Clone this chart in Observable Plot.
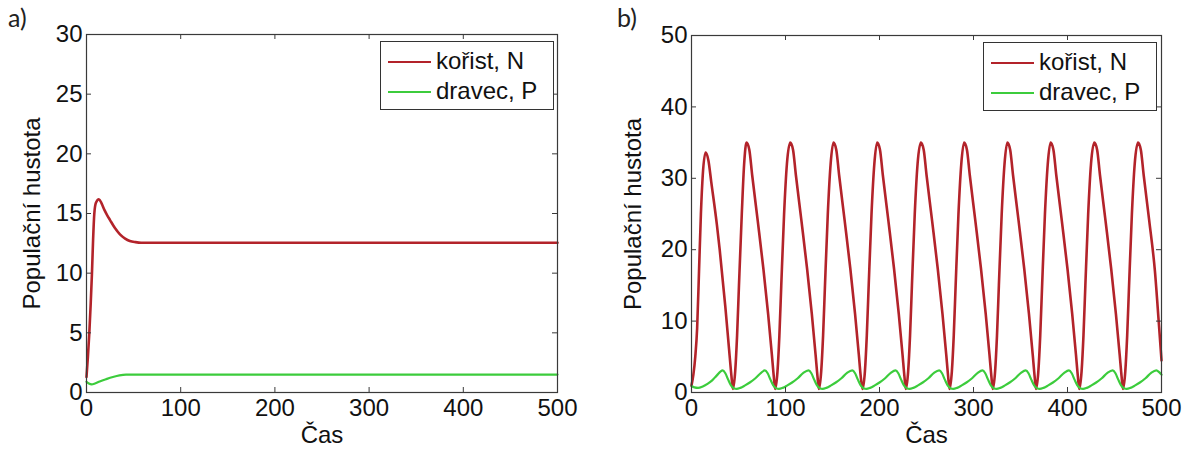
<!DOCTYPE html>
<html>
<head>
<meta charset="utf-8">
<script src="https://cdn.jsdelivr.net/npm/d3@7"></script>
<script src="https://cdn.jsdelivr.net/npm/@observablehq/plot@0.6"></script>
<style>
  html, body { margin: 0; padding: 0; background: #fff; }
  body { width: 1192px; height: 450px; overflow: hidden; position: relative; font-family: "Liberation Sans", Arial, sans-serif; color: #111; }
  .panel { position: absolute; top: 0; width: 596px; height: 450px; }
  .tag { position: absolute; top: 2px; font-family: Lato, "Open Sans", sans-serif; font-size: 25px; color: #222; }
  .legend { position: absolute; box-sizing: border-box; border: 1px solid #333; background: #fff; width: 174px; height: 69px; }
  .row { position: absolute; left: 0; width: 100%; height: 30px; }
  .sw { position: absolute; left: 7px; width: 43px; height: 2px; }
  .lbl { position: absolute; left: 55px; font-size: 24px; line-height: 26px; white-space: nowrap; color: #111; }
</style>
</head>
<body>
<div id="pa" class="panel" style="left:0"></div>
<div id="pb" class="panel" style="left:596px"></div>
<div class="tag" style="left:8px">a)</div>
<div class="tag" style="left:617px">b)</div>
<script>
// ---------- data ----------
const xTickValues = [0, 100, 200, 300, 400, 500];
const aYTicks = [0, 5, 10, 15, 20, 25, 30];
const bYTicks = [0, 10, 20, 30, 40, 50];
const seriesNames = ["kořist, N", "dravec, P"];

// panel a) - prey (kořist, N)
const aPreyT = [0, 1.5, 3, 4.5, 5.8, 7, 8.3, 10, 13.2, 16, 19, 22, 25, 30, 35.5, 41, 46, 52, 58, 500];
const aPreyV = [1.3, 3, 5, 7.5, 10, 12.8, 15, 15.9, 16.2, 15.85, 15.3, 14.85, 14.45, 13.8, 13.25, 12.9, 12.7, 12.6, 12.55, 12.55];
// panel a) - predator (dravec, P)
const aPredT = [0, 2.5, 5.5, 9, 14, 21, 28, 35, 42, 50, 500];
const aPredV = [0.9, 0.75, 0.68, 0.75, 0.92, 1.12, 1.3, 1.44, 1.5, 1.5, 1.5];

// panel b) - prey (kořist, N)
const bPreyT = [0, 2, 4, 6, 8, 10, 12, 15, 18, 21, 27, 30, 36, 40, 42.5, 44,
  46.5, 48.5, 50.5, 53.5, 56, 58.5, 61.5, 64.5, 70.5, 76.5, 81.5, 85.5, 87.5, 89,
  91.5, 93.5, 95.5, 98.5, 101.5, 105, 108, 111, 117, 123, 128, 132, 134, 135.5,
  138, 140, 142, 145, 148, 151, 154, 157, 163, 169, 174, 178, 180, 182,
  184.5, 186.5, 188.5, 191.5, 194.5, 197.5, 200.5, 203.5, 209.5, 215.5, 220.5, 224.5, 226.5, 228,
  230.5, 232.5, 234.5, 237.5, 240.5, 244, 247, 250, 256, 262, 267, 271, 273, 274.5,
  277, 279, 281, 284, 287, 290, 293, 296, 302, 308, 313, 317, 319, 320.5,
  323, 325, 327, 330, 333, 336, 339, 342, 348, 354, 359, 363, 365, 366.5,
  369, 371, 373, 376, 379, 382, 385, 388, 394, 400, 405, 409, 411, 412.5,
  415, 417, 419, 422, 425, 428.5, 431.5, 434.5, 440.5, 446.5, 451.5, 455.5, 457.5, 459,
  461.5, 463.5, 465.5, 468.5, 471.5, 475, 478, 481, 487, 493, 497, 500];
const bPreyV = [1.0, 2.5, 5, 9, 17, 25, 30.5, 33.6, 32.5, 29.5, 23.5, 20, 12, 6, 2.3, 0.5,
  3, 8, 15, 25, 32, 35, 34, 30.5, 24, 17.3, 11, 5.3, 2.3, 0.5,
  3, 8, 15, 25, 32, 35, 34, 30.5, 24, 17.3, 11, 5.3, 2.3, 0.5,
  3, 8, 15, 25, 32, 35, 34, 30.5, 24, 17.3, 11, 5.3, 2.3, 0.5,
  3, 8, 15, 25, 32, 35, 34, 30.5, 24, 17.3, 11, 5.3, 2.3, 0.5,
  3, 8, 15, 25, 32, 35, 34, 30.5, 24, 17.3, 11, 5.3, 2.3, 0.5,
  3, 8, 15, 25, 32, 35, 34, 30.5, 24, 17.3, 11, 5.3, 2.3, 0.5,
  3, 8, 15, 25, 32, 35, 34, 30.5, 24, 17.3, 11, 5.3, 2.3, 0.5,
  3, 8, 15, 25, 32, 35, 34, 30.5, 24, 17.3, 11, 5.3, 2.3, 0.5,
  3, 8, 15, 25, 32, 35, 34, 30.5, 24, 17.3, 11, 5.3, 2.3, 0.5,
  3, 8, 15, 25, 32, 35, 34, 30.5, 24, 17, 10, 4.5];
// panel b) - predator (dravec, P)
const bPredT = [0, 3, 7, 12, 17, 22, 27, 33, 36, 39, 42, 45, 48, 52, 57, 62, 68, 74,
  78, 81, 84, 87, 90, 93, 97, 102, 107, 113, 119,
  124.5, 127.5, 130.5, 133.5, 136.5, 139.5, 143.5, 148.5, 153.5, 159.5, 165.5,
  171, 174, 177, 180, 183, 186, 190, 195, 200, 206, 212,
  217, 220, 223, 226, 229, 232, 236, 241, 246, 252, 258,
  263.5, 266.5, 269.5, 272.5, 275.5, 278.5, 282.5, 287.5, 292.5, 298.5, 304.5,
  309.5, 312.5, 315.5, 318.5, 321.5, 324.5, 328.5, 333.5, 338.5, 344.5, 350.5,
  355.5, 358.5, 361.5, 364.5, 367.5, 370.5, 374.5, 379.5, 384.5, 390.5, 396.5,
  401.5, 404.5, 407.5, 410.5, 413.5, 416.5, 420.5, 425.5, 430.5, 436.5, 442.5,
  448, 451, 454, 457, 460, 463, 467, 472, 477, 483, 489,
  494.5, 497.5, 500];
const bPredV = [0.9, 0.72, 0.65, 0.85, 1.2, 1.7, 2.4, 3.1, 2.7, 1.8, 1.0, 0.6, 0.5, 0.65, 1.0, 1.4, 2.0, 2.75,
  3.1, 2.7, 1.8, 1.0, 0.6, 0.5, 0.65, 1.0, 1.4, 2.0, 2.75,
  3.1, 2.7, 1.8, 1.0, 0.6, 0.5, 0.65, 1.0, 1.4, 2.0, 2.75,
  3.1, 2.7, 1.8, 1.0, 0.6, 0.5, 0.65, 1.0, 1.4, 2.0, 2.75,
  3.1, 2.7, 1.8, 1.0, 0.6, 0.5, 0.65, 1.0, 1.4, 2.0, 2.75,
  3.1, 2.7, 1.8, 1.0, 0.6, 0.5, 0.65, 1.0, 1.4, 2.0, 2.75,
  3.1, 2.7, 1.8, 1.0, 0.6, 0.5, 0.65, 1.0, 1.4, 2.0, 2.75,
  3.1, 2.7, 1.8, 1.0, 0.6, 0.5, 0.65, 1.0, 1.4, 2.0, 2.75,
  3.1, 2.7, 1.8, 1.0, 0.6, 0.5, 0.65, 1.0, 1.4, 2.0, 2.75,
  3.1, 2.7, 1.8, 1.0, 0.6, 0.5, 0.65, 1.0, 1.4, 2.0, 2.75,
  3.1, 2.85, 2.5];

// ---------- drawing ----------
const RED = "#b3232a";
const GREEN = "#3ccc3c";
const AXIS = "#3a3a3a";
const FONT = "'Liberation Sans', Arial, sans-serif";
const FS = 24;

const rows = (T, V) => T.map((t, i) => ({t, v: V[i]}));

function panel(el, cfg) {
  const W = 596, H = 450;
  const {mL, mR, mT, mB, yMax, yTicks, prey, pred, legend, yLabelOffset} = cfg;
  const ph = H - mT - mB, pw = W - mL - mR;
  const tk = 5;
  const chart = Plot.plot({
    width: W, height: H,
    marginLeft: mL, marginRight: mR, marginTop: mT, marginBottom: mB,
    x: {domain: [0, 500]},
    y: {domain: [0, yMax]},
    style: {fontFamily: FONT, fontSize: FS + "px", color: "#111", background: "white", overflow: "visible"},
    marks: [
      Plot.line(prey, {x: "t", y: "v", stroke: RED, strokeWidth: 2.6, curve: "monotone-x"}),
      Plot.line(pred, {x: "t", y: "v", stroke: GREEN, strokeWidth: 2.2, curve: "monotone-x"}),
      Plot.frame({stroke: AXIS, strokeWidth: 1.2}),
      Plot.tickX(xTickValues, {x: d => d, insetTop: ph - tk, stroke: AXIS}),
      Plot.tickX(xTickValues, {x: d => d, insetBottom: ph - tk, stroke: AXIS}),
      Plot.tickY(yTicks, {y: d => d, insetRight: pw - tk, stroke: AXIS}),
      Plot.tickY(yTicks, {y: d => d, insetLeft: pw - tk, stroke: AXIS}),
      Plot.axisX(xTickValues, {tickSize: 0, tickPadding: 6, fontSize: FS, label: "Čas", labelAnchor: "center", labelOffset: 50, labelArrow: "none"}),
      Plot.axisY(yTicks, {tickSize: 0, tickPadding: 4, fontSize: FS, label: "Populační hustota", labelAnchor: "center", labelOffset: yLabelOffset, labelArrow: "none"})
    ]
  });
  document.getElementById(el).appendChild(chart);

  // legend box inside the plot area (top-right)
  const lg = document.createElement("div");
  lg.className = "legend";
  lg.style.left = legend.left + "px";
  lg.style.top = legend.top + "px";
  [RED, GREEN].forEach((c, i) => {
    const r = document.createElement("div");
    r.className = "row";
    r.style.top = (5 + i * 29.5) + "px";
    const sw = document.createElement("div");
    sw.className = "sw";
    sw.style.background = c;
    sw.style.top = "14px";
    const lb = document.createElement("div");
    lb.className = "lbl";
    lb.style.top = "1px";
    lb.textContent = seriesNames[i];
    r.appendChild(sw); r.appendChild(lb);
    lg.appendChild(r);
  });
  document.getElementById(el).appendChild(lg);
}

panel("pa", {mL: 86, mR: 39, mT: 34, mB: 58, yMax: 30, yTicks: aYTicks, yLabelOffset: 64,
  prey: rows(aPreyT, aPreyV), pred: rows(aPredT, aPredV), legend: {left: 380, top: 41}});
panel("pb", {mL: 95, mR: 31, mT: 35, mB: 58, yMax: 50, yTicks: bYTicks, yLabelOffset: 68,
  prey: rows(bPreyT, bPreyV), pred: rows(bPredT, bPredV), legend: {left: 387, top: 42}});
</script>
</body>
</html>
